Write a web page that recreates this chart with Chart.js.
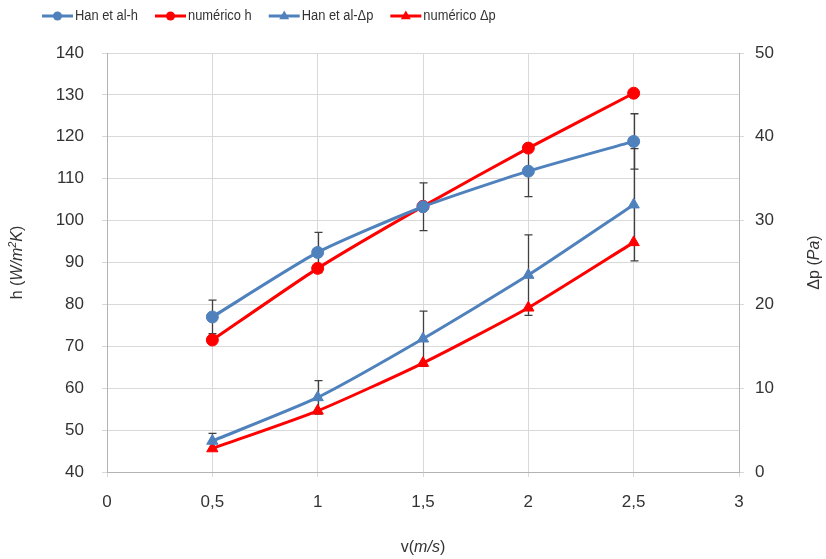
<!DOCTYPE html>
<html>
<head>
<meta charset="utf-8">
<script src="https://cdn.jsdelivr.net/npm/chart.js@4.4.0/dist/chart.umd.min.js"></script>
<style>
  html, body { margin: 0; padding: 0; background: #fff; }
</style>
</head>
<body>
<canvas id="chart" width="826" height="559"></canvas>
<script>
// Data
const velocity = [0.5, 1, 1.5, 2, 2.5];
const hanH = [77, 92.4, 103.3, 111.8, 118.9];
const hanHErr = [4, 4.8, 5.7, 6.1, 6.6];
const numH = [71.5, 88.6, 103.4, 117.3, 130.4];
const hanDp = [3.7, 8.9, 15.9, 23.5, 31.9];
const hanDpErr = [0.9, 2, 3.3, 4.8, 6.7];
const numDp = [2.8, 7.3, 13.0, 19.6, 27.4];
const xTicks = [0, 0.5, 1, 1.5, 2, 2.5, 3];

const BLUE = '#4f81bd';
const RED = '#ff0000';
const GRID = '#d9d9d9';
const AXIS = '#b3b3b3';
const TEXT = '#333333';
const FONT = 'Liberation Sans, Arial, sans-serif';

const pts = (ys) => velocity.map((v, i) => ({ x: v, y: ys[i] }));

function series(label, ys, axis, color, style, radius, err) {
  return {
    label, data: pts(ys), yAxisID: axis,
    borderColor: color, backgroundColor: color,
    pointStyle: style, pointRadius: radius, pointBorderWidth: 1,
    borderWidth: 3, tension: 0.2, errors: err
  };
}

// error bars, drawn through the chart scales
const errorBars = {
  id: 'errorBars',
  beforeDatasetsDraw(chart) {
    const ctx = chart.ctx;
    const xs = chart.scales.x;
    ctx.save();
    ctx.strokeStyle = '#404040';
    ctx.lineWidth = 1.3;
    chart.data.datasets.forEach(ds => {
      if (!ds.errors) return;
      const ys = chart.scales[ds.yAxisID];
      ds.data.forEach((p, i) => {
        const e = ds.errors[i];
        const px = Math.round(xs.getPixelForValue(p.x)) + 0.5;
        const top = ys.getPixelForValue(p.y + e);
        const bot = ys.getPixelForValue(p.y - e);
        ctx.beginPath();
        ctx.moveTo(px, top); ctx.lineTo(px, bot);
        ctx.moveTo(px - 4, top); ctx.lineTo(px + 4, top);
        ctx.moveTo(px - 4, bot); ctx.lineTo(px + 4, bot);
        ctx.stroke();
      });
    });
    ctx.restore();
  }
};

function drawMarker(ctx, style, x, y, r) {
  ctx.beginPath();
  if (style === 'triangle') {
    ctx.moveTo(x, y - r);
    ctx.lineTo(x + r * 0.9, y + r * 0.6);
    ctx.lineTo(x - r * 0.9, y + r * 0.6);
    ctx.closePath();
  } else {
    ctx.arc(x, y, r, 0, Math.PI * 2);
  }
  ctx.fill();
}

// legend: line with marker, then slightly condensed text
const lineLegend = {
  id: 'lineLegend',
  afterDraw(chart) {
    const ctx = chart.ctx;
    const squeeze = 0.92;
    ctx.save();
    ctx.font = '14px ' + FONT;
    ctx.textBaseline = 'middle';
    let x = 42;
    const y = 16;
    chart.data.datasets.forEach(ds => {
      ctx.strokeStyle = ds.borderColor;
      ctx.fillStyle = ds.borderColor;
      ctx.lineWidth = 3;
      ctx.beginPath();
      ctx.moveTo(x, y); ctx.lineTo(x + 31, y);
      ctx.stroke();
      drawMarker(ctx, ds.pointStyle, x + 15.5, y, ds.pointStyle === 'triangle' ? 5.5 : 4.5);
      ctx.fillStyle = TEXT;
      ctx.save();
      ctx.translate(x + 33, y);
      ctx.scale(squeeze, 1);
      ctx.fillText(ds.label, 0, 0);
      ctx.restore();
      x += 33 + ctx.measureText(ds.label).width * squeeze + 17;
    });
    ctx.restore();
  }
};

function drawMixed(ctx, parts, cx, cy, rot) {
  ctx.save();
  ctx.translate(cx, cy);
  ctx.rotate(rot);
  ctx.textBaseline = 'middle';
  ctx.fillStyle = TEXT;
  const fontOf = p => (p.italic ? 'italic ' : '') + (p.sup ? '11px ' : '16px ') + FONT;
  let w = 0;
  parts.forEach(p => { ctx.font = fontOf(p); w += ctx.measureText(p.t).width; });
  let x = -w / 2;
  parts.forEach(p => {
    ctx.font = fontOf(p);
    ctx.fillText(p.t, x, p.sup ? -5 : 0);
    x += ctx.measureText(p.t).width;
  });
  ctx.restore();
}

const axisTitles = {
  id: 'axisTitles',
  afterDraw(chart) {
    const ctx = chart.ctx;
    const a = chart.chartArea;
    const midY = (a.top + a.bottom) / 2;
    drawMixed(ctx, [{ t: 'h (' }, { t: 'W/m', italic: true }, { t: '2', italic: true, sup: true },
      { t: 'K', italic: true }, { t: ')' }], 18, midY, -Math.PI / 2);
    drawMixed(ctx, [{ t: 'Δp (' }, { t: 'Pa', italic: true }, { t: ')' }], 815, midY, -Math.PI / 2);
    drawMixed(ctx, [{ t: 'v(' }, { t: 'm/s', italic: true }, { t: ')' }], (a.left + a.right) / 2, 548, 0);
  }
};

const tickFont = { family: FONT, size: 17 };

const ctx = document.getElementById('chart').getContext('2d');
const chart = new Chart(ctx, {
  type: 'line',
  data: {
    datasets: [
      series('Han et al-h', hanH, 'y', BLUE, 'circle', 6, hanHErr),
      series('numérico h', numH, 'y', RED, 'circle', 6, null),
      series('Han et al-Δp', hanDp, 'y1', BLUE, 'triangle', 6.5, hanDpErr),
      series('numérico Δp', numDp, 'y1', RED, 'triangle', 6.5, null)
    ]
  },
  options: {
    responsive: false,
    animation: false,
    layout: { padding: { top: 53 } },
    plugins: { legend: { display: false }, tooltip: { enabled: false } },
    scales: {
      x: {
        type: 'linear', min: 0, max: 3,
        afterBuildTicks: s => { s.ticks = xTicks.map(v => ({ value: v })); },
        ticks: { font: tickFont, color: TEXT, padding: 15, maxRotation: 0,
                 callback: v => String(v).replace('.', ',') },
        grid: { color: GRID, tickLength: 5 },
        border: { color: AXIS },
        afterFit: s => { s.height = 87; }
      },
      y: {
        position: 'left', min: 40, max: 140,
        ticks: { stepSize: 10, font: tickFont, color: TEXT, padding: 18 },
        grid: { color: GRID, tickLength: 5 },
        border: { color: AXIS },
        afterFit: s => { s.width = 107; }
      },
      y1: {
        position: 'right', min: 0, max: 50,
        ticks: { stepSize: 10, font: tickFont, color: TEXT, padding: 11 },
        grid: { drawOnChartArea: false, color: GRID, tickLength: 5 },
        border: { color: AXIS },
        afterFit: s => { s.width = 87; }
      }
    }
  },
  plugins: [errorBars, lineLegend, axisTitles]
});
</script>
</body>
</html>
